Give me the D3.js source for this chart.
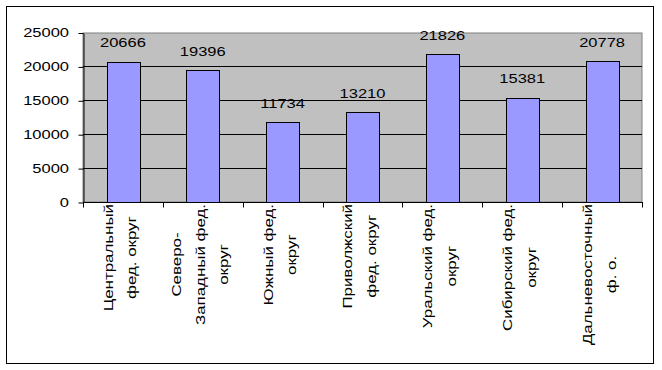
<!DOCTYPE html>
<html>
<head>
<meta charset="utf-8">
<script src="https://cdn.jsdelivr.net/npm/d3@7/dist/d3.min.js"></script>
<style>
  html, body { margin: 0; padding: 0; background: #fff; }
  svg { display: block; }
  text { font-family: "Liberation Sans", Arial, sans-serif; fill: #000; }
</style>
</head>
<body>
<svg id="chart" width="662" height="370"></svg>
<script>
const categories = [
  ["Центральный", "фед. округ"],
  ["Северо-", "Западный фед.", "округ"],
  ["Южный фед.", "округ"],
  ["Приволжский", "фед. округ"],
  ["Уральский фед.", "округ"],
  ["Сибирский фед.", "округ"],
  ["Дальневосточный", "ф. о."]
];
const values = [20666, 19396, 11734, 13210, 21826, 15381, 20778];
const yTicks = [0, 5000, 10000, 15000, 20000, 25000];

const svg = d3.select("#chart");
const plot = { left: 83, right: 642, top: 32.5, bottom: 202 };
const SX = 1.27;   // horizontal stretch of glyphs
const FS = 13;

// outer frame
svg.append("rect").attr("x", 6.5).attr("y", 6.5).attr("width", 647).attr("height", 357)
  .attr("fill", "#fff").attr("stroke", "#000").attr("stroke-width", 1);

const x = d3.scaleBand().domain(d3.range(categories.length))
  .range([plot.left, plot.right]).paddingInner(0.59).paddingOuter(0.295);
const y = d3.scaleLinear().domain([0, 25000]).range([plot.bottom, plot.top]);

// plot area
svg.append("rect").attr("x", plot.left).attr("y", plot.top + 0.5)
  .attr("width", plot.right - plot.left).attr("height", plot.bottom - plot.top - 0.5)
  .attr("fill", "#C0C0C0").attr("stroke", "#808080").attr("stroke-width", 1);

// gridlines
svg.append("g").selectAll("line").data(yTicks.filter(t => t > 0 && t < 25000)).join("line")
  .attr("x1", plot.left).attr("x2", plot.right)
  .attr("y1", d => Math.round(y(d)) + 0.5).attr("y2", d => Math.round(y(d)) + 0.5)
  .attr("stroke", "#000").attr("stroke-width", 1);

// bars
svg.append("g").selectAll("rect").data(values).join("rect")
  .attr("x", (d, i) => Math.round(x(i)) + 0.5)
  .attr("y", d => Math.round(y(d)) + 0.5)
  .attr("width", Math.round(x.bandwidth()))
  .attr("height", d => Math.round(y(0)) - Math.round(y(d)))
  .attr("fill", "#9999FF").attr("stroke", "#000").attr("stroke-width", 1);

// y axis
const yAxis = d3.axisLeft(y).tickValues(yTicks).tickSize(5).tickSizeOuter(0).tickFormat(d3.format("d"));
const gy = svg.append("g").attr("transform", `translate(${plot.left + 0.5},0.5)`).call(yAxis);
gy.select(".domain").attr("stroke", "#000");
gy.selectAll(".tick line").attr("stroke", "#000");
gy.selectAll(".tick text").remove();
svg.append("g").selectAll("text").data(yTicks).join("text")
  .attr("transform", d => `translate(69,${y(d)}) scale(${SX},1)`)
  .attr("text-anchor", "end").attr("dy", "0.36em")
  .attr("font-size", FS).text(d => d);

// x axis line + ticks between categories
svg.append("line").attr("x1", plot.left).attr("x2", plot.right)
  .attr("y1", plot.bottom + 0.5).attr("y2", plot.bottom + 0.5).attr("stroke", "#000");
const step = x.step();
svg.append("g").selectAll("line").data(d3.range(categories.length + 1)).join("line")
  .attr("x1", i => Math.round(plot.left + i * step) + 0.5)
  .attr("x2", i => Math.round(plot.left + i * step) + 0.5)
  .attr("y1", plot.bottom).attr("y2", plot.bottom + 5.5)
  .attr("stroke", "#000");

// data labels
svg.append("g").selectAll("text").data(values).join("text")
  .attr("transform", (d, i) => `translate(${x(i) + x.bandwidth() / 2},${y(d) - 14.5}) scale(${SX},1)`)
  .attr("text-anchor", "middle").attr("font-size", FS).text(d => d);

// category labels (rotated)
const LS = 23.5;
const SR = 1.3;
categories.forEach((lines, i) => {
  const cx = x(i) + x.bandwidth() / 2 - 3;
  const g = svg.append("g").attr("transform", `translate(${cx},204) rotate(-90) scale(${SR},1)`);
  const texts = lines.map((ln, j) => g.append("text")
    .attr("font-size", FS).attr("text-anchor", "middle")
    .attr("dominant-baseline", "central")
    .attr("y", (j - (lines.length - 1) / 2) * LS)
    .text(ln));
  const maxLen = d3.max(texts, t => t.node().getComputedTextLength());
  texts.forEach(t => t.attr("x", -maxLen / 2));
});
</script>
</body>
</html>
